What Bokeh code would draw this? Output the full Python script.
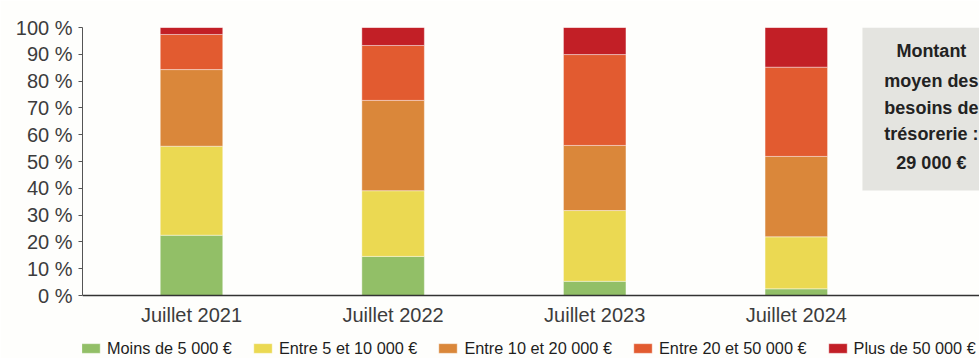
from bokeh.plotting import figure
from bokeh.models import (Range1d, FixedTicker, Legend, LegendItem, BoxAnnotation, Label)
from bokeh.embed import file_html
from bokeh.resources import INLINE

# Share of companies by amount of cash-flow needs (%)
periods = ["Juillet 2021", "Juillet 2022", "Juillet 2023", "Juillet 2024"]
categories = ["Moins de 5 000 €", "Entre 5 et 10 000 €", "Entre 10 et 20 000 €",
              "Entre 20 et 50 000 €", "Plus de 50 000 €"]
moins_5k = [22.5, 14.6, 5.3, 2.5]
entre_5_10k = [33.2, 24.5, 26.4, 19.4]
entre_10_20k = [28.6, 33.7, 24.3, 30.0]
entre_20_50k = [13.1, 20.5, 33.9, 33.3]
plus_50k = [2.6, 6.7, 10.1, 14.8]
y_ticks = [0, 10, 20, 30, 40, 50, 60, 70, 80, 90, 100]
y_tick_labels = [f"{t} %" for t in y_ticks]
note_lines = ["Montant", "moyen des", "besoins de", "trésorerie :", "29 000 €"]

colors = ["#92bf67", "#ebd952", "#da873a", "#e25b30", "#c21f26"]
keys = ["c0", "c1", "c2", "c3", "c4"]
xs = list(range(len(periods)))
data = dict(x=xs, c0=moins_5k, c1=entre_5_10k, c2=entre_10_20k, c3=entre_20_50k, c4=plus_50k)

BG = "#fefefc"
FONT = "Liberation Sans"

# the frame runs to the bottom edge; the space below 0 % holds the x labels and legend
p = figure(width=979, height=358, output_backend="svg", toolbar_location=None,
           x_range=Range1d(-0.5407, 3.9087), y_range=Range1d(-23.5, 100),
           min_border_left=82, min_border_right=0, min_border_top=27, min_border_bottom=0,
           background_fill_color=BG, border_fill_color=BG, outline_line_color=None)
p.grid.visible = False

renderers = p.vbar_stack(keys, x="x", width=0.31, source=data, color=colors,
                         line_color="#ffffff", line_alpha=0.5, line_width=0.8)

# y axis
yax = p.yaxis[0]
yax.ticker = FixedTicker(ticks=y_ticks)
yax.bounds = (0, 100)
yax.major_label_overrides = {t: l for t, l in zip(y_ticks, y_tick_labels)}
yax.major_label_text_font = FONT
yax.major_label_text_font_size = "20px"
yax.major_label_text_color = "#3c3c3c"
yax.axis_line_color = "#555555"
yax.major_tick_line_color = "#555555"
yax.major_tick_in = 0
yax.major_tick_out = 4
yax.minor_tick_line_color = None
yax.major_label_standoff = 6

# x axis sits on the 0 % line
xax = p.xaxis[0]
xax.fixed_location = 0
xax.ticker = FixedTicker(ticks=xs)
xax.major_label_overrides = {i: lab for i, lab in zip(xs, periods)}
xax.major_label_text_font = FONT
xax.major_label_text_font_size = "20px"
xax.major_label_text_color = "#3c3c3c"
xax.axis_line_color = "#333333"
xax.axis_line_width = 1.5
xax.major_tick_line_color = None
xax.minor_tick_line_color = None
xax.major_label_standoff = 2

# note box on the right
p.add_layout(BoxAnnotation(left=3.328, right=4.2, bottom=39.2, top=100,
                           fill_color="#e4e4e0", fill_alpha=1, line_color=None))
note_y = [91.4, 80.2, 70.1, 60.1, 49.6]
for txt, yy in zip(note_lines, note_y):
    p.add_layout(Label(x=3.67, y=yy, text=txt, text_align="center", text_baseline="middle",
                       text_font=FONT, text_font_style="bold", text_font_size="18px",
                       text_color="#222222"))

legend = Legend(items=[LegendItem(label=c, renderers=[r]) for c, r in zip(categories, renderers)],
                orientation="horizontal", location=(-3, 0),
                background_fill_alpha=0, border_line_color=None,
                padding=0, margin=0, spacing=19, label_standoff=5,
                glyph_width=23, glyph_height=12, label_height=20,
                label_text_font=FONT, label_text_font_size="16.3px",
                label_text_color="#1e1e1e")
p.add_layout(legend, "center")

open("out.html", "w").write(file_html(p, INLINE))
